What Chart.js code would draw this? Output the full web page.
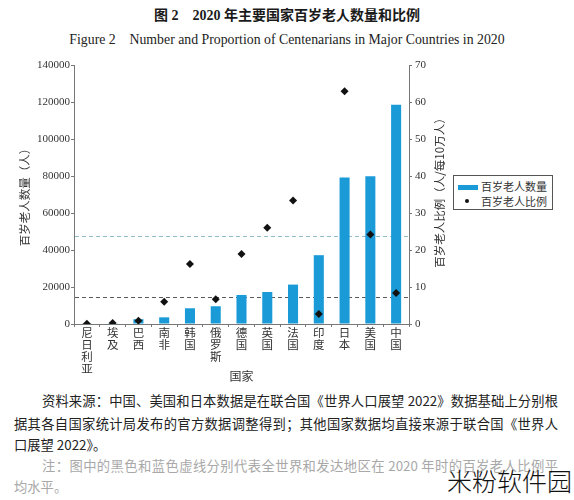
<!DOCTYPE html>
<html lang="zh-CN">
<head>
<meta charset="utf-8">
<script src="https://cdn.jsdelivr.net/npm/chart.js@4.4.0/dist/chart.umd.min.js"></script>
<style>
html,body{margin:0;padding:0;background:#fff;}
body{width:574px;height:500px;position:relative;overflow:hidden;font-family:"Noto Sans CJK SC",sans-serif;color:#222;}
#t1{position:absolute;top:7px;left:0;width:574px;text-align:center;font-weight:bold;font-size:14px;line-height:18px;font-family:"Liberation Serif","Noto Sans CJK SC",serif;color:#1a1a1a;}
#t2{position:absolute;top:31px;left:0;width:574px;text-align:center;font-size:13.8px;line-height:18px;font-family:"Liberation Serif",serif;color:#222;}
#chart{position:absolute;left:0;top:50px;}
#legend{position:absolute;left:453px;top:175px;width:98px;height:33px;border:1px solid #555;background:#fff;font-size:11px;color:#333;}
#legend .row{position:absolute;left:27px;height:14px;line-height:14px;white-space:nowrap;}
#legend .sw{position:absolute;left:4px;top:9px;width:20px;height:5px;background:#1B9AD8;}
#legend .dot{position:absolute;left:11px;top:23px;width:4px;height:4px;border-radius:50%;background:#111;}
.cap{position:absolute;left:14px;width:544px;font-size:13.3px;line-height:21px;text-align:justify;text-align-last:justify;color:#222;}
.note{color:#a8a8a8;}
#wm{position:absolute;left:447px;top:466px;font-size:25px;line-height:28px;font-weight:300;color:#111;white-space:nowrap;}
</style>
</head>
<body>
<div id="t1">图 2&nbsp;&nbsp;&nbsp; 2020 年主要国家百岁老人数量和比例</div>
<div id="t2">Figure 2&nbsp;&nbsp;&nbsp; Number and Proportion of Centenarians in Major Countries in 2020</div>
<canvas id="chart" width="574" height="340"></canvas>
<div id="legend">
  <span class="sw"></span><div class="row" style="top:3px">百岁老人数量</div>
  <span class="dot"></span><div class="row" style="top:18px">百岁老人比例</div>
</div>
<div class="cap" style="top:390px;padding-left:28px;width:516px;">资料来源：中国、美国和日本数据是在联合国《世界人口展望 2022》数据基础上分别根</div>
<div class="cap" style="top:413px;">据其各自国家统计局发布的官方数据调整得到；其他国家数据均直接来源于联合国《世界人</div>
<div class="cap" style="top:434px;text-align-last:left;">口展望 2022》。</div>
<div class="cap note" style="top:455px;padding-left:28px;width:516px;">注：图中的黑色和蓝色虚线分别代表全世界和发达地区在 2020 年时的百岁老人比例平</div>
<div class="cap note" style="top:476px;text-align-last:left;">均水平。</div>
<div id="wm">米粉软件园</div>
<script>
// ---- data ----
const countries = ['尼日利亚','埃及','巴西','南非','韩国','俄罗斯','德国','英国','法国','印度','日本','美国','中国'];
const centenarians = [150, 400, 2600, 3600, 8500, 9600, 15700, 17300, 21300, 37200, 79200, 79900, 118500];
const ratePer100k = [0.1, 0.3, 0.9, 6.0, 16.2, 6.7, 18.9, 26.0, 33.4, 2.7, 62.9, 24.2, 8.4];
const leftTicks = [0, 20000, 40000, 60000, 80000, 100000, 120000, 140000];
const rightTicks = [0, 10, 20, 30, 40, 50, 60, 70];
const refLevels = [23.9, 7.4];           // developed regions, world (per 100k)
const refColors = ['#8fbcc8', '#5a5a5a'];

const CJK = '"Noto Sans CJK SC", sans-serif';
const SERIF = '"Liberation Serif", "Noto Sans CJK SC", serif';

const refLinePlugin = {
  id: 'refLines',
  beforeDatasetsDraw(chart) {
    const {ctx, chartArea} = chart;
    const s = chart.scales.y1;
    ctx.save();
    ctx.lineWidth = 1.2;
    ctx.setLineDash([4, 3]);
    refLevels.forEach((v, i) => {
      const y = Math.round(s.getPixelForValue(v)) + 0.5;
      ctx.strokeStyle = refColors[i];
      ctx.beginPath();
      ctx.moveTo(chartArea.left + 1, y);
      ctx.lineTo(chartArea.right - 1, y);
      ctx.stroke();
    });
    ctx.restore();
  }
};

const rightTitlePlugin = {
  id: 'rightTitle',
  afterDraw(chart) {
    const {ctx} = chart;
    ctx.save();
    ctx.translate(440, 140);
    ctx.rotate(-Math.PI / 2);
    ctx.font = '11.5px ' + CJK;
    ctx.fillStyle = '#333';
    ctx.textAlign = 'center';
    ctx.textBaseline = 'middle';
    ctx.fillText('百岁老人比例（人/每10万人）', 0, 0);
    ctx.restore();
  }
};

new Chart(document.getElementById('chart'), {
  type: 'bar',
  data: {
    labels: countries.map(c => Array.from(c)),
    datasets: [
      {
        type: 'line',
        label: '百岁老人比例',
        data: ratePer100k,
        yAxisID: 'y1',
        showLine: false,
        pointStyle: 'rectRot',
        pointRadius: 4,
        pointBackgroundColor: '#111',
        pointBorderColor: '#111',
        pointBorderWidth: 0,
        order: 0
      },
      {
        type: 'bar',
        label: '百岁老人数量',
        data: centenarians,
        yAxisID: 'y',
        backgroundColor: '#1B9AD8',
        borderWidth: 0,
        barPercentage: 0.39,
        categoryPercentage: 1.0,
        order: 1
      }
    ]
  },
  options: {
    responsive: false,
    animation: false,
    devicePixelRatio: 1,
    layout: {padding: {left: 0, right: 125, top: 15, bottom: 0}},
    plugins: {legend: {display: false}, tooltip: {enabled: false}},
    scales: {
      x: {
        offset: true,
        grid: {offset: true, drawOnChartArea: false, drawTicks: true, tickLength: 3, color: '#777'},
        border: {display: true, color: '#777', width: 1},
        ticks: {autoSkip: false, maxRotation: 0, minRotation: 0, padding: 0, color: '#333',
                font: {family: CJK, size: 11.5, lineHeight: '12px'}},
        title: {display: true, text: '国家', color: '#333', font: {family: CJK, size: 12}, padding: {top: 0, bottom: 6}},
        afterFit(s) { s.height = 66; }
      },
      y: {
        position: 'left',
        min: 0, max: 140000,
        afterBuildTicks(s) { s.ticks = leftTicks.map(v => ({value: v})); },
        ticks: {padding: 1, color: '#333', font: {family: SERIF, size: 11}, callback: v => String(v)},
        grid: {drawOnChartArea: false, drawTicks: true, tickLength: 3, color: '#777'},
        border: {display: true, color: '#777', width: 1},
        title: {display: true, text: '百岁老人数量（人）', color: '#333', font: {family: CJK, size: 11.5}, padding: {top: 18, bottom: 0}},
        afterFit(s) { s.width = 74; }
      },
      y1: {
        position: 'right',
        min: 0, max: 70,
        afterBuildTicks(s) { s.ticks = rightTicks.map(v => ({value: v})); },
        ticks: {padding: 3, color: '#333', font: {family: SERIF, size: 11}, callback: v => String(v)},
        grid: {drawOnChartArea: false, drawTicks: true, tickLength: 3, color: '#777'},
        border: {display: true, color: '#777', width: 1},
        afterFit(s) { s.width = 40; }
      }
    }
  },
  plugins: [refLinePlugin, rightTitlePlugin]
});
</script>
</body>
</html>
